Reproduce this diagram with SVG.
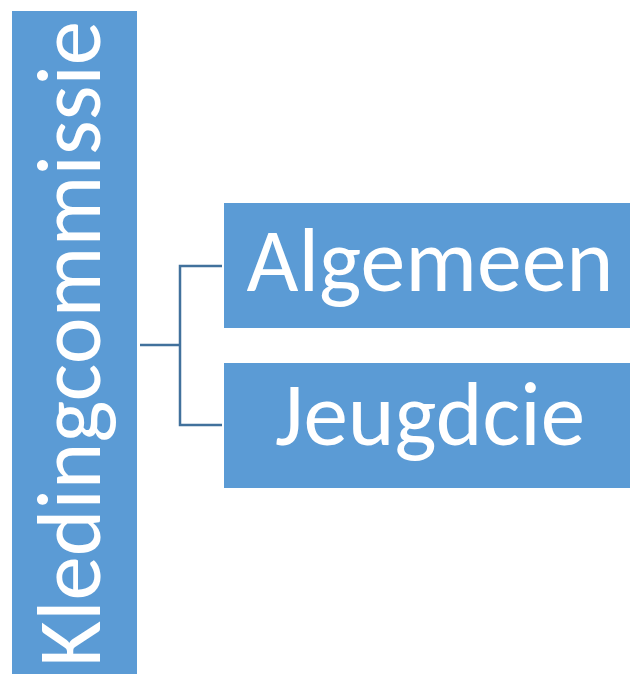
<svg xmlns="http://www.w3.org/2000/svg" width="630" height="674" viewBox="0 0 630 674">
<style>
.box{fill:#5B9BD5;stroke:none}
.lbl{fill:#FFFFFF;font-family:Carlito,Calibri,"Open Sans","Noto Sans",sans-serif;font-size:90px;text-anchor:middle}
.conn{fill:none;stroke:#41719C;stroke-width:2.5}
</style>
<rect width="630" height="674" fill="#FFFFFF"/>
<g id="connectors">
<path class="conn" d="M140,345 H180"/>
<path class="conn" d="M222,266 H180 V425 H222"/>
</g>
<g id="kledingcommissie">
<rect class="box" x="12" y="11" width="125" height="663"/>
<text class="lbl" transform="translate(100,344) rotate(-90)" x="0" y="0" textLength="646" lengthAdjust="spacingAndGlyphs">Kledingcommissie</text>
</g>
<g id="algemeen">
<rect class="box" x="224" y="203" width="406" height="125"/>
<text class="lbl" x="430" y="291" textLength="367" lengthAdjust="spacingAndGlyphs">Algemeen</text>
</g>
<g id="jeugdcie">
<rect class="box" x="224" y="363" width="406" height="125"/>
<text class="lbl" x="430" y="445" textLength="310" lengthAdjust="spacingAndGlyphs">Jeugdcie</text>
</g>
</svg>
